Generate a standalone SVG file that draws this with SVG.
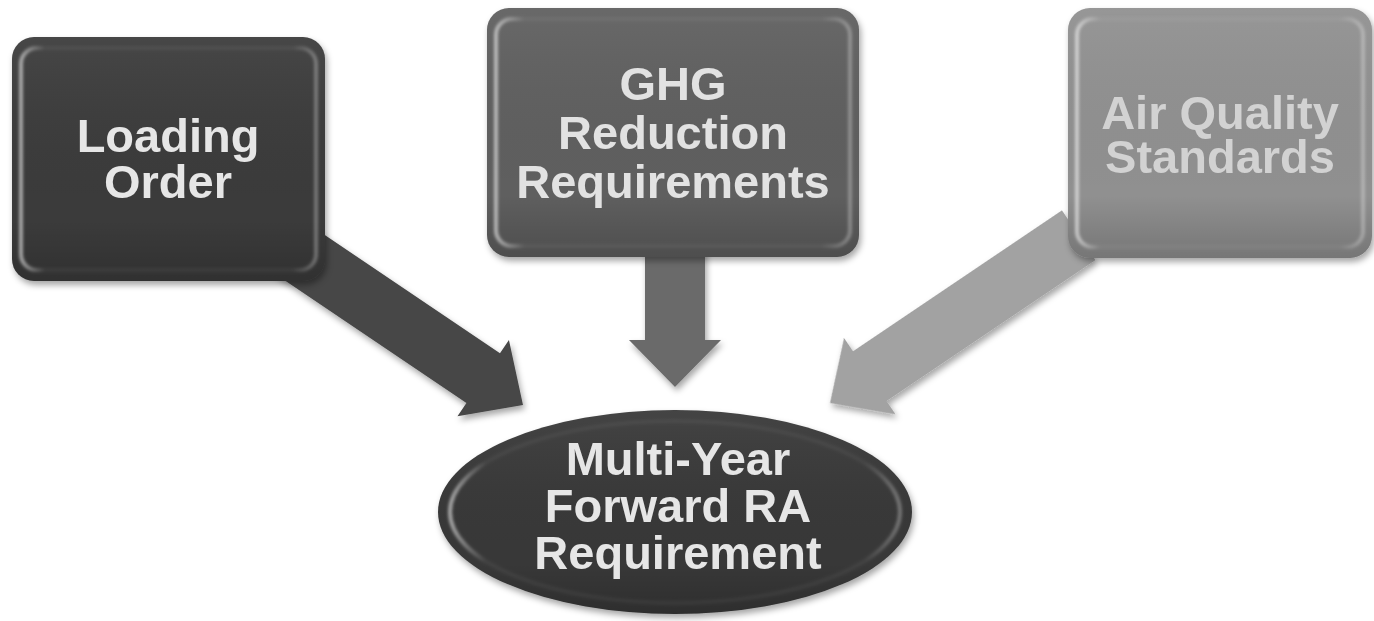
<svg xmlns="http://www.w3.org/2000/svg" width="1374" height="621" viewBox="0 0 1374 621">
  <defs>
    <!-- soft drop shadow shared by every shape -->
    <filter id="shadow" x="-10%" y="-10%" width="125%" height="130%">
      <feDropShadow dx="2" dy="4" stdDeviation="3" flood-color="#000" flood-opacity="0.35"/>
    </filter>
    <filter id="soft" x="-5%" y="-5%" width="110%" height="110%">
      <feGaussianBlur stdDeviation="1.5"/>
    </filter>
    <!-- bevel rim: bright on the left, faint on the right -->
    <linearGradient id="rim" x1="0" y1="0" x2="1" y2="0">
      <stop offset="0" stop-color="#fff" stop-opacity="0.55"/>
      <stop offset="0.08" stop-color="#fff" stop-opacity="0.05"/>
      <stop offset="0.92" stop-color="#fff" stop-opacity="0.05"/>
      <stop offset="1" stop-color="#fff" stop-opacity="0.3"/>
    </linearGradient>
    <linearGradient id="shade" x1="0" y1="0" x2="0" y2="1">
      <stop offset="0" stop-color="#fff" stop-opacity="0.06"/>
      <stop offset="0.75" stop-color="#000" stop-opacity="0"/>
      <stop offset="1" stop-color="#000" stop-opacity="0.18"/>
    </linearGradient>
    <!-- block arrow pointing along +x with its tip at the origin -->
    <path id="arrow" d="M0,0 L-48,46 L-48,30 L-300,30 L-300,-30 L-48,-30 L-48,-46 Z"/>
    <path id="arrowShort" d="M0,0 L-47,46 L-47,30 L-140,30 L-140,-30 L-47,-30 L-47,-46 Z"/>
  </defs>
  <style>
    .label { font-family: "Liberation Sans", Arial, sans-serif; font-weight: bold; font-size: 47px; text-anchor: middle; }
    .rim { fill: none; stroke: url(#rim); stroke-width: 4; filter: url(#soft); }
    .shade { stroke: none; fill: url(#shade); }
  </style>

  <rect width="1374" height="621" fill="#fff"/>

  <!-- connectors: three block arrows converging on the oval -->
  <g id="connectors" filter="url(#shadow)">
    <use href="#arrow" transform="translate(523,405) rotate(34)" fill="#474747"/>
    <use href="#arrowShort" transform="translate(675,387) rotate(90)" fill="#6b6b6b"/>
    <use href="#arrow" transform="translate(830,403) rotate(146)" fill="#a2a2a2"/>
  </g>

  <g id="loading-order">
    <rect x="12" y="37" width="313" height="244" rx="22" fill="#3b3b3b" filter="url(#shadow)"/>
    <rect x="12" y="37" width="313" height="244" rx="22" class="shade"/>
    <rect x="21" y="48" width="295" height="222" rx="16" class="rim"/>
    <text class="label" fill="#e6e6e6" x="168" y="152">Loading</text>
    <text class="label" fill="#e6e6e6" x="168" y="198">Order</text>
  </g>

  <g id="ghg-reduction">
    <rect x="487" y="8" width="372" height="249" rx="22" fill="#5e5e5e" filter="url(#shadow)"/>
    <rect x="487" y="8" width="372" height="249" rx="22" class="shade"/>
    <rect x="496" y="19" width="354" height="227" rx="16" class="rim"/>
    <text class="label" fill="#e2e2e2" x="673" y="100">GHG</text>
    <text class="label" fill="#e2e2e2" x="673" y="149">Reduction</text>
    <text class="label" fill="#e2e2e2" x="673" y="198">Requirements</text>
  </g>

  <g id="air-quality">
    <rect x="1068" y="8" width="304" height="250" rx="22" fill="#909090" filter="url(#shadow)"/>
    <rect x="1068" y="8" width="304" height="250" rx="22" class="shade"/>
    <rect x="1077" y="19" width="286" height="228" rx="16" class="rim"/>
    <text class="label" fill="#d2d2d2" x="1220" y="129">Air Quality</text>
    <text class="label" fill="#d2d2d2" x="1220" y="173">Standards</text>
  </g>

  <g id="multi-year-ra">
    <ellipse cx="675" cy="512" rx="237" ry="102" fill="#383838" filter="url(#shadow)"/>
    <ellipse cx="675" cy="512" rx="237" ry="102" class="shade"/>
    <ellipse cx="675" cy="512" rx="225" ry="91" class="rim"/>
    <text class="label" fill="#e6e6e6" x="678" y="475">Multi-Year</text>
    <text class="label" fill="#e6e6e6" x="678" y="522">Forward RA</text>
    <text class="label" fill="#e6e6e6" x="678" y="569">Requirement</text>
  </g>
</svg>
